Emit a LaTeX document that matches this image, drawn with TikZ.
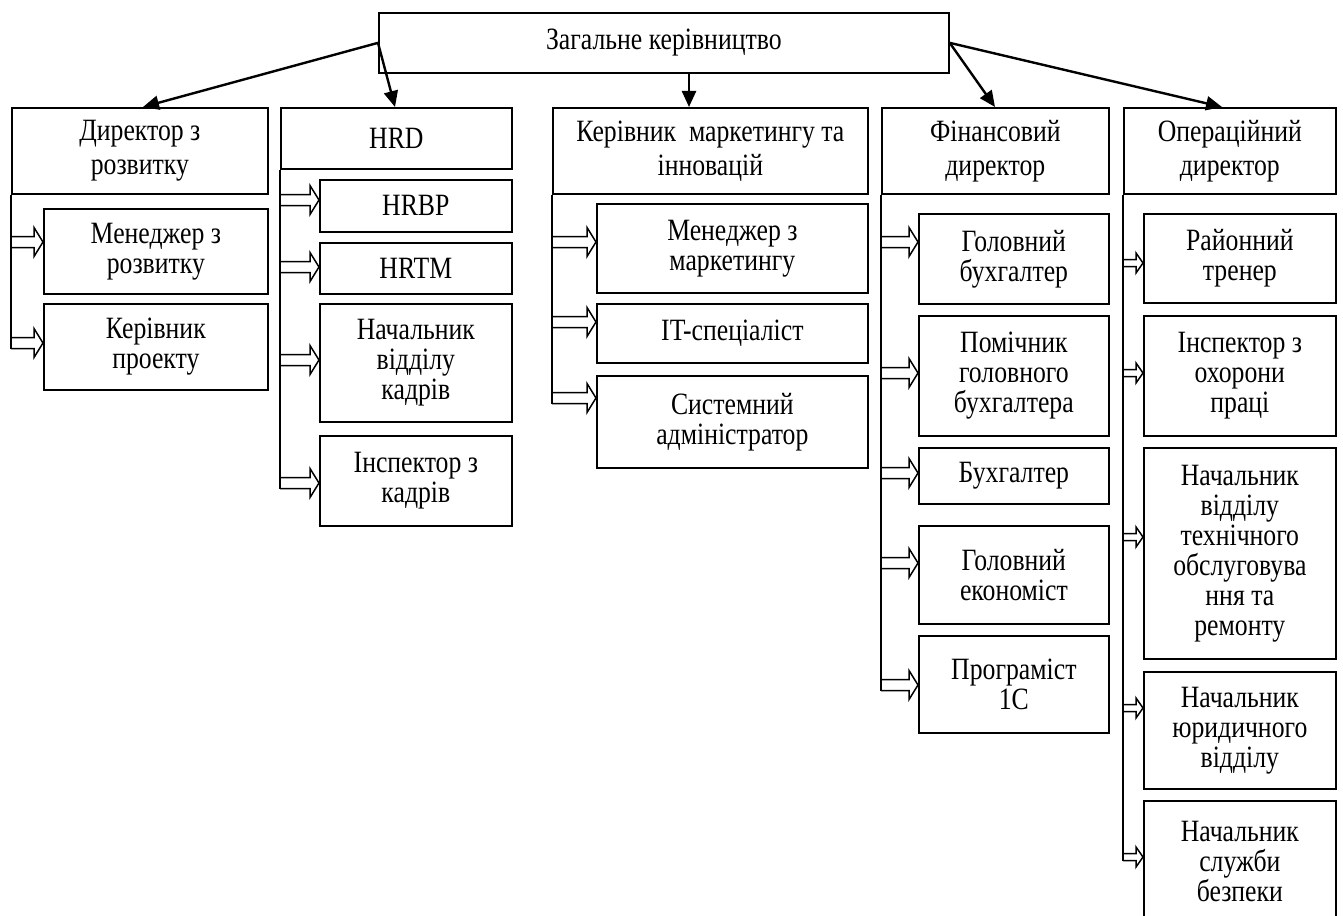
\documentclass[tikz,border=0pt]{standalone}
\usepackage{fontspec}
\setmainfont[FakeStretch=0.83]{Liberation Serif}
\usetikzlibrary{arrows.meta,calc}
\tikzset{
  box/.style={draw, line width=0.85pt, anchor=north west, inner sep=0pt, align=center,
    font=\fontsize{15.5}{15}\selectfont},
  head/.style={box, font=\fontsize{15.5}{17}\selectfont},
  mainarrow/.style={line width=1.2pt, -{Triangle[length=8pt,width=7pt]}},
  trunk/.style={line width=0.75pt},
  barrow/.style={line width=0.75pt, fill=white, line join=miter},
}
% #1 name, #2 style, #3 x1, #4 y1, #5 x2, #6 y2, #7 text
\newcommand\bx[7]{\node[#2, minimum width={(#5-#3)*0.5pt}, minimum height={(#6-#4)*0.5pt}] (#1) at (#3,#4) {#7};}
% #1 target, #2 parent, #3 y (px), #4 shaft half, #5 head half, #6 head length
\newcommand\blk[6]{%
  \coordinate (yy) at (0,#3);
  \coordinate (tp) at (#1.west |- yy);
  \coordinate (tb) at (#2.south west |- yy);
  \coordinate (#1-b) at ([yshift=-#4]tb);
  \draw[barrow] ([yshift=#4]tb) -- ([xshift=-#6,yshift=#4]tp) -- ([xshift=-#6,yshift=#5]tp)
    -- (tp) -- ([xshift=-#6,yshift=-#5]tp) -- ([xshift=-#6,yshift=-#4]tp) -- (#1-b);
}
\newcommand\blkn[3]{\blk{#1}{#2}{#3}{2.75pt}{7.25pt}{4.5pt}}
\newcommand\blks[3]{\blk{#1}{#2}{#3}{1.75pt}{5pt}{3.5pt}}
\begin{document}
\begin{tikzpicture}[x=0.5pt,y=-0.5pt]
\useasboundingbox (0,0) rectangle (1343,915);
\clip (0,0) rectangle (1343,915);

\bx{top}{head}{378}{12}{948}{72}{Загальне керівництво}
\bx{dir}{head}{11}{107}{267}{193}{Директор з\\розвитку}
\bx{hrd}{head}{280}{107}{511}{168}{HRD}
\bx{mkt}{head}{552}{107}{867}{193}{Керівник\ \ маркетингу та\\інновацій}
\bx{fin}{head}{881}{107}{1108}{193}{Фінансовий\\директор}
\bx{ops}{head}{1123}{107}{1335}{193}{Операційний\\директор}

\bx{m1}{box}{43}{208}{267}{293}{Менеджер з\\розвитку}
\bx{m2}{box}{43}{303}{267}{389}{Керівник\\проекту}

\bx{h1}{box}{319}{179}{511}{231}{HRBP}
\bx{h2}{box}{319}{242}{511}{293}{HRTM}
\bx{h3}{box}{319}{303}{511}{421}{Начальник\\відділу\\кадрів}
\bx{h4}{box}{319}{435}{511}{525}{Інспектор з\\кадрів}

\bx{k1}{box}{596}{203}{867}{292}{Менеджер з\\маркетингу}
\bx{k2}{box}{596}{303}{867}{362}{IT-спеціаліст}
\bx{k3}{box}{596}{375}{867}{467}{Системний\\адміністратор}

\bx{f1}{box}{918}{213}{1108}{303}{Головний\\бухгалтер}
\bx{f2}{box}{918}{315}{1108}{435}{Помічник\\головного\\бухгалтера}
\bx{f3}{box}{918}{447}{1108}{503}{Бухгалтер}
\bx{f4}{box}{918}{525}{1108}{623}{Головний\\економіст}
\bx{f5}{box}{918}{635}{1108}{732}{Програміст\\1С}

\bx{o1}{box}{1143}{213}{1335}{302}{Районний\\тренер}
\bx{o2}{box}{1143}{315}{1335}{435}{Інспектор з\\охорони\\праці}
\bx{o3}{box}{1143}{447}{1335}{658}{Начальник\\відділу\\технічного\\обслуговува\\ння та\\ремонту}
\bx{o4}{box}{1143}{671}{1335}{788}{Начальник\\юридичного\\відділу}
\bx{o5}{box}{1143}{800}{1335}{922}{Начальник\\служби\\безпеки}

% main arrows
\draw[mainarrow] (top.west) -- ($(dir.north west)+(132,0)$);
\draw[mainarrow] (top.west) -- ($(hrd.north west)+(115,0)$);
\coordinate (mc) at ($(mkt.north west)+(137,0)$);
\draw[mainarrow] (top.south -| mc) -- (mc);
\draw[mainarrow] (top.east) -- ($(fin.north west)+(114,0)$);
\draw[mainarrow] (top.east) -- ($(ops.north west)+(99,0)$);

% block arrows
\blkn{m1}{dir}{242}
\blkn{m2}{dir}{343}
\draw[trunk] (dir.south west) -- (m2-b);

\blkn{h1}{hrd}{200}
\blkn{h2}{hrd}{267}
\blkn{h3}{hrd}{360}
\blkn{h4}{hrd}{483}
\draw[trunk] (hrd.south west) -- (h4-b);

\blkn{k1}{mkt}{242}
\blkn{k2}{mkt}{322}
\blkn{k3}{mkt}{398}
\draw[trunk] (mkt.south west) -- (k3-b);

\blkn{f1}{fin}{242}
\blkn{f2}{fin}{373}
\blkn{f3}{fin}{473}
\blkn{f4}{fin}{563}
\blkn{f5}{fin}{685}
\draw[trunk] (fin.south west) -- (f5-b);

\blks{o1}{ops}{263}
\blks{o2}{ops}{373}
\blks{o3}{ops}{537}
\blks{o4}{ops}{708}
\blks{o5}{ops}{857}
\draw[trunk] (ops.south west) -- (o5-b);
\end{tikzpicture}
\end{document}
